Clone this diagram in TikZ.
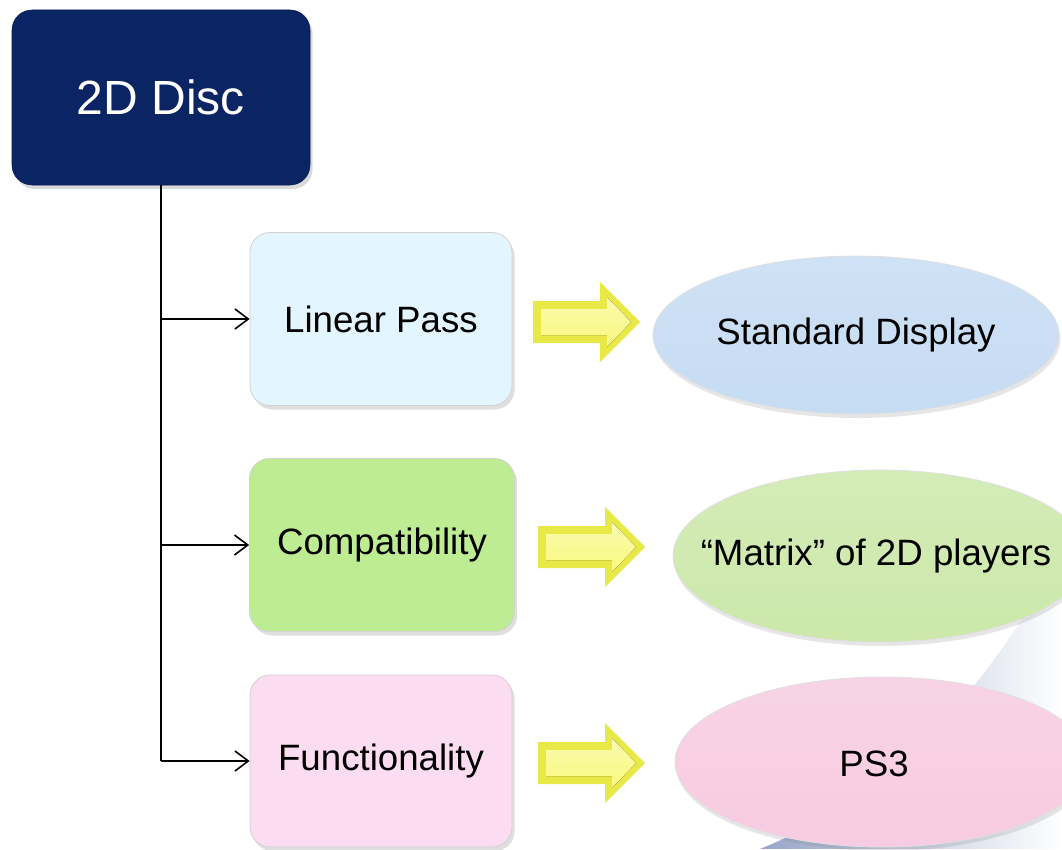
\documentclass[tikz,border=0pt]{standalone}
\usepackage{fontspec}
\setmainfont{Liberation Sans}
\usetikzlibrary{shapes.geometric,shadows,arrows.meta,fadings}
\definecolor{navy}{RGB}{10,36,100}
\definecolor{navyedge}{RGB}{5,25,75}
\definecolor{boxblue}{RGB}{227,245,254}
\definecolor{boxgreen}{RGB}{190,236,147}
\definecolor{boxpink}{RGB}{252,220,240}
\definecolor{ellblue}{RGB}{198,220,243}
\definecolor{ellgreen}{RGB}{204,232,170}
\definecolor{ellpink}{RGB}{247,203,225}
\definecolor{yelA}{RGB}{232,232,70}
\definecolor{yelB}{RGB}{248,248,125}
\definecolor{swoosh}{RGB}{150,165,200}
\tikzset{
  rbox/.style={rectangle, rounded corners=15pt, inner sep=0pt,
    minimum width={262*0.75pt}, minimum height={173*0.75pt},
    draw=black!18, line width=0.6pt, font=\fontsize{27.5}{30}\selectfont,
    drop shadow={opacity=0.25, shadow xshift=2pt, shadow yshift=-3pt}},
  oval/.style={ellipse, inner sep=0pt, draw=black!12, line width=0.6pt,
    drop shadow={opacity=0.2, shadow xshift=1pt, shadow yshift=-3pt}},
  ovaltext/.style={inner sep=0pt, font=\fontsize{27.5}{30}\selectfont},
  link/.style={line width=1.2pt, -{Straight Barb[length=10pt, width=15pt, line width=1.2pt]}},
  yarrow/.pic={
    \fill[yelA] (0,-21) -- (67,-21) -- (67,-40) -- (107,0) -- (67,40) -- (67,21) -- (0,21) -- cycle;
    \fill[top color=yelB!60!white, bottom color=yelB] (8,-13) -- (74,-13) -- (74,-25) -- (98,0) -- (74,25) -- (74,13) -- (8,13) -- cycle;
  }
}
\begin{document}
\begin{tikzpicture}[x=0.75pt, y=-0.75pt]
\useasboundingbox (0,0) rectangle (1062,849);
\clip (0,0) rectangle (1062,849);
% background swoosh
\fill[swoosh, path fading=east]
  (760,849) .. controls (930,780) and (1000,650) .. (1062,560) -- (1062,849) -- cycle;

% top box
\node[rectangle, rounded corners=15pt, inner sep=0pt, fill=navy, draw=navyedge,
  minimum width={298*0.75pt}, minimum height={175*0.75pt},
  text=white, font=\fontsize{36}{40}\selectfont,
  drop shadow={opacity=0.3, shadow xshift=2pt, shadow yshift=-3pt}]
  (top) at (161,97.5) {2D Disc};

% boxes
\node[rbox, fill=boxblue] (lp) at (381,319) {Linear Pass};
\node[rbox, fill=boxgreen, minimum width={265*0.75pt}] (cp) at (382,545) {Compatibility};
\node[rbox, fill=boxpink, minimum height={172*0.75pt}] (fn) at (381,761) {Functionality};

% ellipses
\node[oval, top color=ellblue!85!white, bottom color=ellblue, minimum width={406*0.75pt}, minimum height={158*0.75pt}]
  (sd) at (856,335) {};
\node[ovaltext] (sdt) at (sd.center) {Standard Display};
\node[oval, top color=ellgreen!85!white, bottom color=ellgreen, minimum width={414*0.75pt}, minimum height={172*0.75pt}]
  (mx) at (880,556) {};
\node[ovaltext] (mxt) at (876,556) {“Matrix” of 2D players};
\node[oval, top color=ellpink!85!white, bottom color=ellpink, minimum width={414*0.75pt}, minimum height={170*0.75pt}]
  (ps) at (882,762) {};
\node[ovaltext] (pst) at (874,764) {PS3};

% connectors
\draw[line width=1.2pt] (top.south) -- (top.south |- fn.west);
\draw[link] (top.south |- lp.west) -- (lp.west);
\draw[link] (top.south |- cp.west) -- (cp.west);
\draw[link] (top.south |- fn.west) -- (fn.west);

% block arrows
\pic at (533,322) {yarrow};
\pic at (538,547) {yarrow};
\pic at (538,763) {yarrow};
\end{tikzpicture}
\end{document}
